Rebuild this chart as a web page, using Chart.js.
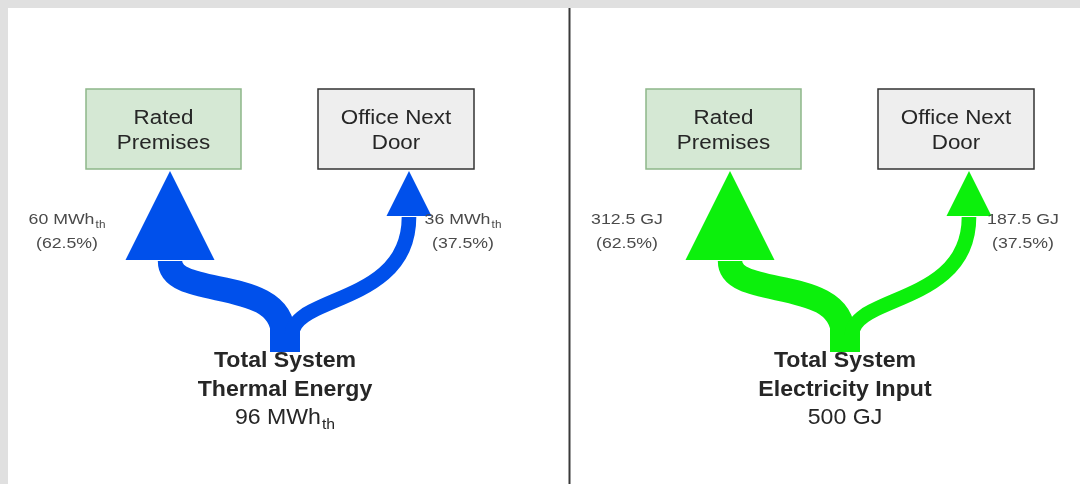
<!DOCTYPE html>
<html>
<head>
<meta charset="utf-8">
<script src="https://cdn.jsdelivr.net/npm/chart.js@4.4.1/dist/chart.umd.min.js"></script>
<style>
  html, body { margin: 0; padding: 0; background: #e0e0e0; overflow: hidden; }
  #wrap { width: 1080px; height: 484px; position: relative; }
</style>
</head>
<body>
<div id="wrap"><canvas id="flowChart"></canvas></div>
<script>
// data
const DESTINATIONS = [["Rated", "Premises"], ["Office Next", "Door"]];
const SOURCES = [["Total System", "Thermal Energy"], ["Total System", "Electricity Input"]];
const THERMAL_VALUES = [60, 36];
const ELECTRIC_VALUES = [312.5, 187.5];
const TOTALS = [96, 500];
const UNITS = [["MWh", "th"], ["GJ", ""]];

// layout (panel-local coordinates, second panel shifted right)
const PANEL_OFFSETS = [0, 560];
const FLOW_COLORS = ["#0050eb", "#0cf00c"];
const BOXES = [
    { x0: 86, x1: 241, y0: 89, y1: 169, fill: "#d5e8d4", stroke: "#8db789" },
    { x0: 318, x1: 474, y0: 89, y1: 169, fill: "#eeeeee", stroke: "#333333" }
];
const HEAD_X = [170, 409];
const LABEL_X = [67, 463];
const TRUNK = { x: 285, top: 318, bottom: 352 };
const FLOW_WIDTH = 39;
const FONT = "'Liberation Sans', Arial, sans-serif";

// arrow head size grows with the share of the flow
function headSize(share) {
    return 176 * share - 21;
}

function drawText(ctx, str, x, y, font, color, sx) {
    ctx.save();
    ctx.font = font;
    ctx.fillStyle = color;
    ctx.textAlign = "center";
    ctx.textBaseline = "middle";
    ctx.translate(x, y);
    ctx.scale(sx, 1);
    ctx.fillText(str, 0, 0);
    ctx.restore();
}

// text with an optional subscript, centred as one block
function drawSubText(ctx, main, sub, x, y, size, color, sx) {
    const subSize = Math.round(size * 0.68);
    ctx.save();
    ctx.font = size + "px " + FONT;
    const wMain = ctx.measureText(main).width;
    ctx.font = subSize + "px " + FONT;
    const wSub = sub ? ctx.measureText(sub).width + 1 : 0;
    const start = x - (wMain + wSub) * sx / 2;
    ctx.translate(start, y);
    ctx.scale(sx, 1);
    ctx.fillStyle = color;
    ctx.textAlign = "left";
    ctx.textBaseline = "middle";
    ctx.font = size + "px " + FONT;
    ctx.fillText(main, 0, 0);
    if (sub) {
        ctx.font = subSize + "px " + FONT;
        ctx.fillText(sub, wMain + 1, size * 0.32);
    }
    ctx.restore();
}

const flowPlugin = {
    id: "flowPlugin",
    beforeDraw(chart) {
        const ctx = chart.ctx;
        ctx.save();
        ctx.fillStyle = "#e0e0e0";
        ctx.fillRect(0, 0, chart.width, chart.height);
        ctx.fillStyle = "#ffffff";
        ctx.fillRect(8, 8, chart.width - 8, chart.height - 8);
        ctx.restore();
    },
    afterDatasetsDraw(chart) {
        const ctx = chart.ctx;
        const xs = chart.scales.x;
        const ys = chart.scales.y;
        const px = v => xs.getPixelForValue(v);
        const py = v => ys.getPixelForValue(v);

        // divider between the two panels
        ctx.save();
        ctx.strokeStyle = "#3a3a3a";
        ctx.lineWidth = 2;
        ctx.beginPath();
        ctx.moveTo(px(569.5), py(8));
        ctx.lineTo(px(569.5), py(484));
        ctx.stroke();
        ctx.restore();

        chart.data.datasets.forEach((ds, p) => {
            const dx = PANEL_OFFSETS[p];
            const values = ds.values;
            const total = TOTALS[p];
            ctx.save();

            // destination boxes
            BOXES.forEach((b, j) => {
                ctx.fillStyle = b.fill;
                ctx.strokeStyle = b.stroke;
                ctx.lineWidth = 1.5;
                ctx.fillRect(px(b.x0 + dx), py(b.y0), px(b.x1) - px(b.x0), py(b.y1) - py(b.y0));
                ctx.strokeRect(px(b.x0 + dx), py(b.y0), px(b.x1) - px(b.x0), py(b.y1) - py(b.y0));
                const cx = px((b.x0 + b.x1) / 2 + dx);
                drawText(ctx, DESTINATIONS[j][0], cx, py(118), "20px " + FONT, "#262626", 1.12);
                drawText(ctx, DESTINATIONS[j][1], cx, py(143), "20px " + FONT, "#262626", 1.12);
            });

            ctx.fillStyle = FLOW_COLORS[p];
            ctx.strokeStyle = FLOW_COLORS[p];

            // trunk
            ctx.lineWidth = 30;
            ctx.beginPath();
            ctx.moveTo(px(TRUNK.x + dx), py(TRUNK.bottom));
            ctx.lineTo(px(TRUNK.x + dx), py(TRUNK.top));
            ctx.stroke();

            values.forEach((v, j) => {
                const share = v / total;
                const head = headSize(share);
                const pt = ds.data[j];
                const baseY = pt.y + head;
                const hx = HEAD_X[j] + dx;

                // curved branch, width from the value
                const startX = j === 0 ? TRUNK.x - 2 : TRUNK.x + 7;
                const c1y = j === 0 ? 275 : 295;
                const c2y = j === 0 ? 300 : 305;
                ctx.lineWidth = FLOW_WIDTH * share;
                ctx.beginPath();
                ctx.moveTo(px(startX + dx), py(335));
                ctx.bezierCurveTo(px(startX + dx), py(c1y), px(hx), py(c2y), px(hx), py(baseY + 1));
                ctx.stroke();

                // arrow head
                ctx.beginPath();
                ctx.moveTo(px(pt.x), py(pt.y));
                ctx.lineTo(px(hx - head / 2), py(baseY));
                ctx.lineTo(px(hx + head / 2), py(baseY));
                ctx.closePath();
                ctx.fill();

                // side labels
                const lx = px(LABEL_X[j] + dx);
                const amount = (Number.isInteger(v) ? v : v.toFixed(1)) + " " + UNITS[p][0];
                drawSubText(ctx, amount, UNITS[p][1], lx, py(220), 15, "#4a4a4a", 1.18);
                drawText(ctx, "(" + (share * 100).toFixed(1) + "%)", lx, py(244), "15px " + FONT, "#4a4a4a", 1.18);
            });

            // source label under the trunk
            const sx = px(TRUNK.x + dx);
            drawText(ctx, SOURCES[p][0], sx, py(361), "bold 22px " + FONT, "#262626", 1.05);
            drawText(ctx, SOURCES[p][1], sx, py(390), "bold 22px " + FONT, "#262626", 1.05);
            drawSubText(ctx, total + " " + UNITS[p][0], UNITS[p][1], sx, py(418), 22, "#262626", 1.05);
            ctx.restore();
        });
    }
};

const datasets = [THERMAL_VALUES, ELECTRIC_VALUES].map((values, p) => ({
    label: SOURCES[p].join(" "),
    values: values,
    data: values.map((v, j) => ({ x: HEAD_X[j] + PANEL_OFFSETS[p], y: BOXES[j].y1 + 2 })),
    pointRadius: 0
}));

new Chart(document.getElementById("flowChart"), {
    type: "scatter",
    data: { datasets: datasets },
    options: {
        responsive: true,
        maintainAspectRatio: false,
        animation: false,
        layout: { padding: 0 },
        plugins: {
            legend: { display: false },
            tooltip: { enabled: false }
        },
        scales: {
            x: { type: "linear", min: 0, max: 1080, display: false },
            y: { type: "linear", min: 0, max: 484, reverse: true, display: false }
        }
    },
    plugins: [flowPlugin]
});
</script>
</body>
</html>
